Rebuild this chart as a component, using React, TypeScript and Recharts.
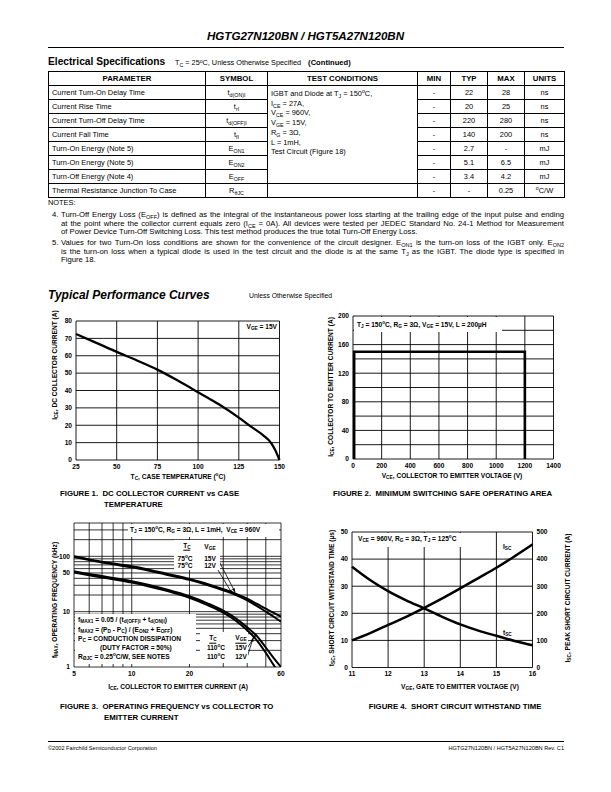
import React from 'react'
import {
  LineChart,
  ComposedChart,
  Line,
  XAxis,
  YAxis,
  CartesianGrid,
} from 'recharts'

const FONT = "'Liberation Sans', Arial, Helvetica, sans-serif"

// ---- spec table
const tableHeads = ['PARAMETER', 'SYMBOL', 'TEST CONDITIONS', 'MIN', 'TYP', 'MAX', 'UNITS']
const colWidths = [157, 62, 150, 33, 37, 37, 40]
const params = [
  'Current Turn-On Delay Time',
  'Current Rise Time',
  'Current Turn-Off Delay Time',
  'Current Fall Time',
  'Turn-On Energy (Note 5)',
  'Turn-On Energy (Note 5)',
  'Turn-Off Energy (Note 4)',
  'Thermal Resistance Junction To Case',
]
const symBase = ['t', 't', 't', 't', 'E', 'E', 'E', 'R']
const symSub = ['d(ON)I', 'rI', 'd(OFF)I', 'fI', 'ON1', 'ON2', 'OFF', 'θJC']
const minVals = ['-', '-', '-', '-', '-', '-', '-', '-']
const typVals = ['22', '20', '220', '140', '2.7', '5.1', '3.4', '-']
const maxVals = ['28', '25', '280', '200', '-', '6.5', '4.2', '0.25']
const unitVals = ['ns', 'ns', 'ns', 'ns', 'mJ', 'mJ', 'mJ', 'C/W']

// ---- figure 1: DC collector current vs case temperature
const fig1Temp = [25, 37.5, 50, 62.5, 75, 87.5, 100, 112.5, 125, 132.5, 140, 145, 147.5, 150]
const fig1Ice = [72.5, 67.4, 62.2, 57.3, 52, 45.7, 39, 32.2, 24.4, 19.2, 14.2, 9.6, 5.5, 0]
const fig1XTicks = [25, 50, 75, 100, 125, 150]
const fig1YTicks = [0, 10, 20, 30, 40, 50, 60, 70, 80]

// ---- figure 2: switching SOA
const fig2Vce = [8, 8, 1200, 1200]
const fig2Ice = [0, 150, 150, 0]
const fig2XTicks = [0, 200, 400, 600, 800, 1000, 1200, 1400]
const fig2YTicks = [0, 20, 40, 60, 80, 100, 120, 140, 160, 180, 200]
const fig2YLabels = [0, 40, 80, 120, 160, 200]

// ---- figure 3: fmax vs ICE (log-log)
const fig3Ice = [5, 6, 7, 8, 10, 12, 15, 20, 25, 30, 35, 40, 45, 50, 55, 60]
const fig3F75V15 = [100, 88, 80, 74, 66, 58.5, 49, 39, 31.5, 25.5, 21, 17.2, 13.8, 11.3, 9.5, 8.1]
const fig3F75V12 = [97, 85.5, 77.5, 71.5, 63.5, 56, 47, 37.5, 30, 24.3, 20, 16, 12.6, 10, 8.1, 6.6]
const fig3F110V15 = [54, 48, 44, 40.5, 35.5, 31, 25.5, 19, 14, 10.4, 7.5, 5.2, 3.6, 2.25, 1.45, 1.0]
const fig3F110V12 = [51, 45.5, 41.5, 38.5, 33.5, 29.2, 24, 17.8, 13, 9.6, 6.8, 4.6, 3.0, 1.8, 1.08, 0.7]
const fig3XTicks = [5, 6, 7, 8, 9, 10, 20, 30, 40, 50, 60]
const fig3XLabels = [5, 10, 20, 60]
const fig3YTicks = [1, 2, 3, 4, 5, 6, 7, 8, 9, 10, 20, 30, 40, 50, 60, 70, 80, 90, 100, 200, 300, 400]
const fig3YLabels = [1, 10, 50, 100]
// legend pointer arrows (from label to curve)
const fig3Arrows = [
  [[28, 92], [34.6, 22.5]],
  [[27.4, 66], [33.4, 21.2]],
  [[40, 2.2], [44.5, 3.9]],
  [[40, 1.52], [43, 3.4]],
]

// ---- figure 4: short circuit withstand time
const fig4Vge = [11, 11.5, 12, 12.5, 13, 13.5, 14, 14.5, 15, 15.5, 16]
const fig4Tsc = [37.2, 32.3, 28.2, 24.8, 21.8, 18.7, 15.9, 13.6, 11.7, 9.8, 8.2]
const fig4Isc = [100, 127, 157, 187, 220, 255, 292, 330, 368, 410, 454]
const fig4XTicks = [11, 12, 13, 14, 15, 16]
const fig4LTicks = [0, 10, 20, 30, 40, 50]
const fig4RTicks = [0, 100, 200, 300, 400, 500]

type Box = { x0: number; y0: number; x1: number; y1: number }
const PAD = 8
function frame(b: Box, yw: number, yw2: number, xh: number) {
  return {
    style: { position: 'absolute' as const, left: b.x0 - yw - PAD, top: b.y0 - PAD },
    width: b.x1 - b.x0 + yw + yw2 + 2 * PAD,
    height: b.y1 - b.y0 + xh + 2 * PAD,
    margin: { top: PAD, right: PAD, bottom: PAD, left: PAD },
  }
}

const tick = { fontSize: 6.6, fontWeight: 700, fill: '#000', fontFamily: FONT }
const axisCommon = {
  axisLine: false,
  tickLine: false,
  tick,
  tickSize: 2,
  tickMargin: 2,
  interval: 0 as const,
}

const S = ({ children }: { children: React.ReactNode }) => (
  <sub style={{ fontSize: '0.72em', verticalAlign: '-0.3em', lineHeight: 0 }}>{children}</sub>
)
const O = () => (
  <sup style={{ fontSize: '0.7em', verticalAlign: '0.5em', lineHeight: 0 }}>o</sup>
)

function Txt({
  x,
  y,
  children,
  size = 6.6,
  weight = 700,
  anchor = 'start',
  italic = false,
  rotate = false,
  style = {},
}: any) {
  const tx = anchor === 'middle' ? '-50%' : anchor === 'end' ? '-100%' : '0'
  return (
    <div
      style={{
        position: 'absolute',
        left: x,
        top: y,
        transform: rotate ? 'translate(-50%,-50%) rotate(-90deg)' : `translate(${tx},-50%)`,
        fontSize: size,
        fontWeight: weight,
        fontStyle: italic ? 'italic' : 'normal',
        whiteSpace: 'nowrap',
        lineHeight: 1,
        ...style,
      }}
    >
      {children}
    </div>
  )
}

const WhiteBox = ({ x, y, w, h }: { x: number; y: number; w: number; h: number }) => (
  <div style={{ position: 'absolute', left: x, top: y, width: w, height: h, background: '#fff' }} />
)

const Rule = ({ y }: { y: number }) => (
  <div style={{ position: 'absolute', left: 48, top: y, width: 516, height: 1, background: '#000' }} />
)

// custom dot: remembers the first point and draws an arrow head on the second
function arrowDot() {
  let prev: { x: number; y: number } | null = null
  return (p: any) => {
    const { cx, cy, index } = p
    if (index === 0 || !prev) {
      prev = { x: cx, y: cy }
      return <g key={`a${index}`} />
    }
    const a = Math.atan2(cy - prev.y, cx - prev.x)
    const L = 4
    const W = 1.5
    const bx = cx - L * Math.cos(a)
    const by = cy - L * Math.sin(a)
    const pts = `${cx},${cy} ${bx - W * Math.sin(a)},${by + W * Math.cos(a)} ${bx + W * Math.sin(a)},${by - W * Math.cos(a)}`
    return <polygon key={`a${index}`} points={pts} fill="#000" />
  }
}

function SpecTable() {
  const cell: React.CSSProperties = {
    border: '1px solid #000',
    padding: 0,
    textAlign: 'center',
    verticalAlign: 'middle',
    lineHeight: '9px',
  }
  const cond = [
    <>IGBT and Diode at T<S>J</S> = 150<O />C,</>,
    <>I<S>CE</S> = 27A,</>,
    <>V<S>CE</S> = 960V,</>,
    <>V<S>GE</S> = 15V,</>,
    <>R<S>G</S> = 3Ω,</>,
    <>L = 1mH,</>,
    <>Test Circuit (Figure 18)</>,
  ]
  return (
    <table
      style={{
        position: 'absolute',
        left: 48,
        top: 71,
        width: 516,
        borderCollapse: 'collapse',
        tableLayout: 'fixed',
        fontSize: 7.4,
        fontFamily: FONT,
      }}
    >
      <colgroup>
        {colWidths.map((w, i) => (
          <col key={i} style={{ width: w }} />
        ))}
      </colgroup>
      <thead>
        <tr style={{ height: 14 }}>
          {tableHeads.map((h) => (
            <th key={h} style={{ ...cell, fontSize: 7.8, fontWeight: 700 }}>
              {h}
            </th>
          ))}
        </tr>
      </thead>
      <tbody>
        {params.map((p, i) => (
          <tr key={i} style={{ height: 14 }}>
            <td style={{ ...cell, textAlign: 'left', paddingLeft: 3 }}>{p}</td>
            <td style={cell}>
              {symBase[i]}
              <S>{symSub[i]}</S>
            </td>
            {i === 0 && (
              <td
                rowSpan={7}
                style={{ ...cell, textAlign: 'left', verticalAlign: 'top', paddingLeft: 3, paddingTop: 3, lineHeight: '9.7px' }}
              >
                {cond.map((c, k) => (
                  <div key={k}>{c}</div>
                ))}
              </td>
            )}
            {i === 7 && <td style={cell} />}
            <td style={cell}>{minVals[i]}</td>
            <td style={cell}>{typVals[i]}</td>
            <td style={cell}>{maxVals[i]}</td>
            <td style={cell}>
              {unitVals[i] === 'C/W' ? (
                <>
                  <O />C/W
                </>
              ) : (
                unitVals[i]
              )}
            </td>
          </tr>
        ))}
      </tbody>
    </table>
  )
}

function NoteLine({ y, last, children }: { y: number; last?: boolean; children: React.ReactNode }) {
  return (
    <div
      style={{
        position: 'absolute',
        left: 61,
        top: y,
        width: 503,
        transform: 'translateY(-50%)',
        fontSize: 7.7,
        lineHeight: 1,
        whiteSpace: 'nowrap',
        textAlign: last ? 'left' : 'justify',
        textAlignLast: last ? 'left' : 'justify',
      }}
    >
      {children}
    </div>
  )
}

function Fig1() {
  const box = { x0: 76, y0: 320.5, x1: 279.5, y1: 459.5 }
  const g = frame(box, 22, 0, 14)
  const data = fig1Temp.map((t, i) => ({ t, ice: fig1Ice[i] }))
  return (
    <div style={g.style}>
      <LineChart width={g.width} height={g.height} margin={g.margin} data={data}>
        <CartesianGrid stroke="#000" strokeWidth={0.9} />
        <XAxis dataKey="t" type="number" domain={[25, 150]} ticks={fig1XTicks} height={14} {...axisCommon} />
        <YAxis type="number" domain={[0, 80]} ticks={fig1YTicks} width={22} {...axisCommon} />
        <Line dataKey="ice" type="monotone" stroke="#000" strokeWidth={2.3} dot={false} isAnimationActive={false} />
      </LineChart>
    </div>
  )
}

function Fig2() {
  const box = { x0: 353, y0: 316, x1: 553.5, y1: 459 }
  const g = frame(box, 22, 0, 14)
  const data = fig2Vce.map((v, i) => ({ v, ice: fig2Ice[i] }))
  return (
    <div style={g.style}>
      <LineChart width={g.width} height={g.height} margin={g.margin} data={data}>
        <CartesianGrid stroke="#000" strokeWidth={0.9} />
        <XAxis dataKey="v" type="number" domain={[0, 1400]} ticks={fig2XTicks} height={14} {...axisCommon} />
        <YAxis
          type="number"
          domain={[0, 200]}
          ticks={fig2YTicks}
          width={22}
          {...axisCommon}
          tickFormatter={(v: number) => (fig2YLabels.includes(v) ? String(v) : '')}
        />
        <Line dataKey="ice" type="linear" stroke="#000" strokeWidth={2.6} dot={false} isAnimationActive={false} />
      </LineChart>
    </div>
  )
}

function Fig3() {
  const box = { x0: 73.5, y0: 523, x1: 280.5, y1: 667 }
  const g = frame(box, 22, 0, 14)
  const series = [fig3F75V15, fig3F75V12, fig3F110V15, fig3F110V12]
  return (
    <div style={g.style}>
      <LineChart width={g.width} height={g.height} margin={g.margin}>
        <CartesianGrid stroke="#000" strokeWidth={0.8} />
        <XAxis
          dataKey="x"
          type="number"
          scale="log"
          domain={[5, 60]}
          allowDataOverflow
          ticks={fig3XTicks}
          height={14}
          {...axisCommon}
          tickFormatter={(v: number) => (fig3XLabels.includes(v) ? String(v) : '')}
        />
        <YAxis
          type="number"
          scale="log"
          domain={[1, 400]}
          allowDataOverflow
          ticks={fig3YTicks}
          width={22}
          {...axisCommon}
          tickFormatter={(v: number) => (fig3YLabels.includes(v) ? String(v) : '')}
        />
        {series.map((s, k) => (
          <Line
            key={k}
            data={fig3Ice.map((x, i) => ({ x, y: s[i] }))}
            dataKey="y"
            type="monotone"
            stroke="#000"
            strokeWidth={2}
            dot={false}
            isAnimationActive={false}
          />
        ))}
        {fig3Arrows.map((a, k) => (
          <Line
            key={`arr${k}`}
            data={a.map((pt) => ({ x: pt[0], y: pt[1] }))}
            dataKey="y"
            type="linear"
            stroke="#000"
            strokeWidth={0.8}
            dot={arrowDot()}
            isAnimationActive={false}
          />
        ))}
      </LineChart>
    </div>
  )
}

function Fig4() {
  const box = { x0: 351.5, y0: 531.5, x1: 532, y1: 667 }
  const g = frame(box, 22, 22, 14)
  const data = fig4Vge.map((v, i) => ({ v, tsc: fig4Tsc[i], isc: fig4Isc[i] }))
  return (
    <div style={g.style}>
      <ComposedChart width={g.width} height={g.height} margin={g.margin} data={data}>
        <CartesianGrid stroke="#000" strokeWidth={0.9} yAxisId="l" />
        <XAxis dataKey="v" type="number" domain={[11, 16]} ticks={fig4XTicks} height={14} {...axisCommon} />
        <YAxis yAxisId="l" type="number" domain={[0, 50]} ticks={fig4LTicks} width={22} {...axisCommon} />
        <YAxis
          yAxisId="r"
          orientation="right"
          type="number"
          domain={[0, 500]}
          ticks={fig4RTicks}
          width={22}
          {...axisCommon}
        />
        <Line yAxisId="l" dataKey="tsc" type="monotone" stroke="#000" strokeWidth={2.5} dot={false} isAnimationActive={false} />
        <Line yAxisId="r" dataKey="isc" type="monotone" stroke="#000" strokeWidth={2.5} dot={false} isAnimationActive={false} />
      </ComposedChart>
    </div>
  )
}

export default function App() {
  return (
    <div
      style={{
        position: 'absolute',
        left: 0,
        top: 0,
        width: 611,
        height: 792,
        background: '#fff',
        color: '#000',
        fontFamily: FONT,
        overflow: 'hidden',
      }}
    >
      <Txt x={305.5} y={36} size={11.6} italic anchor="middle">
        HGTG27N120BN / HGT5A27N120BN
      </Txt>
      <Rule y={47} />

      <Txt x={48} y={62} size={10.2}>
        Electrical Specifications
      </Txt>
      <Txt x={175} y={62.5} size={7.3} weight={400}>
        T<S>C</S> = 25<O />C, Unless Otherwise Specified
        <span style={{ fontWeight: 700, marginLeft: 7, fontSize: 7.6 }}>(Continued)</span>
      </Txt>

      <SpecTable />

      <Txt x={48} y={203} size={7.4} weight={400}>
        NOTES:
      </Txt>
      <Txt x={52} y={215} size={7.7} weight={400}>
        4.
      </Txt>
      <NoteLine y={215}>
        Turn-Off Energy Loss (E<S>OFF</S>) is defined as the integral of the instantaneous power loss starting at the trailing
        edge of the input pulse and ending
      </NoteLine>
      <NoteLine y={223.5}>
        at the point where the collector current equals zero (I<S>CE</S> = 0A). All devices were tested per JEDEC Standard No.
        24-1 Method for Measurement
      </NoteLine>
      <NoteLine y={232} last>
        of Power Device Turn-Off Switching Loss. This test method produces the true total Turn-Off Energy Loss.
      </NoteLine>
      <Txt x={52} y={243} size={7.7} weight={400}>
        5.
      </Txt>
      <NoteLine y={243}>
        Values for two Turn-On loss conditions are shown for the convenience of the circuit designer. E<S>ON1</S> is the
        turn-on loss of the IGBT only. E<S>ON2</S>
      </NoteLine>
      <NoteLine y={251.5}>
        is the turn-on loss when a typical diode is used in the test circuit and the diode is at the same T<S>J</S> as the IGBT.
        The diode type is specified in
      </NoteLine>
      <NoteLine y={260} last>
        Figure 18.
      </NoteLine>

      <Txt x={48} y={295} size={12} italic>
        Typical Performance Curves
      </Txt>
      <Txt x={249} y={296} size={6.8} weight={400}>
        Unless Otherwise Specified
      </Txt>

      {/* Figure 1 */}
      <Fig1 />
      <Txt x={277} y={327} anchor="end">
        V<S>GE</S> = 15V
      </Txt>
      <Txt x={55} y={365} rotate>
        I<S>CE</S>, DC COLLECTOR CURRENT (A)
      </Txt>
      <Txt x={178} y={477} anchor="middle">
        T<S>C</S>, CASE TEMPERATURE (<O />C)
      </Txt>
      <Txt x={60} y={494} size={7.8}>
        FIGURE 1.&nbsp; DC COLLECTOR CURRENT vs CASE
      </Txt>
      <Txt x={104} y={505} size={7.8}>
        TEMPERATURE
      </Txt>

      {/* Figure 2 */}
      <Fig2 />
      <WhiteBox x={354} y={317} w={148} h={15} />
      <Txt x={357} y={325}>
        T<S>J</S> = 150<O />C, R<S>G</S> = 3Ω, V<S>GE</S> = 15V, L = 200µH
      </Txt>
      <Txt x={331} y={387} rotate>
        I<S>CE</S>, COLLECTOR TO EMITTER CURRENT (A)
      </Txt>
      <Txt x={452} y={476} anchor="middle">
        V<S>CE</S>, COLLECTOR TO EMITTER VOLTAGE (V)
      </Txt>
      <Txt x={333} y={494} size={7.8}>
        FIGURE 2.&nbsp; MINIMUM SWITCHING SAFE OPERATING AREA
      </Txt>

      {/* Figure 3 */}
      <Fig3 />
      <WhiteBox x={128} y={524} w={151} h={13} />
      <Txt x={130} y={530}>
        T<S>J</S> = 150<O />C, R<S>G</S> = 3Ω, L = 1mH,&nbsp; V<S>CE</S> = 960V
      </Txt>
      <WhiteBox x={174} y={540} w={46} h={30} />
      <Txt x={187} y={546.5} anchor="middle" style={{ borderBottom: '0.8px solid #000', paddingBottom: 1 }}>
        T<S>C</S>
      </Txt>
      <Txt x={210} y={546.5} anchor="middle">
        V<S>GE</S>
      </Txt>
      <Txt x={185} y={558.5} anchor="middle">
        75<O />C
      </Txt>
      <Txt x={210} y={558.5} anchor="middle">
        15V
      </Txt>
      <Txt x={185} y={566} anchor="middle">
        75<O />C
      </Txt>
      <Txt x={210} y={566} anchor="middle">
        12V
      </Txt>
      <WhiteBox x={75} y={614} w={121} h={50} />
      <Txt x={78} y={620}>
        f<S>MAX1</S> = 0.05 / (t<S>d(OFF)I</S> + t<S>d(ON)I</S>)
      </Txt>
      <Txt x={78} y={630}>
        f<S>MAX2</S> = (P<S>D</S> - P<S>C</S>) / (E<S>ON2</S> + E<S>OFF</S>)
      </Txt>
      <Txt x={78} y={639}>
        P<S>C</S> = CONDUCTION DISSIPATION
      </Txt>
      <Txt x={100} y={648}>
        (DUTY FACTOR = 50%)
      </Txt>
      <Txt x={78} y={657}>
        R<S>ØJC</S> = 0.25<O />C/W, SEE NOTES
      </Txt>
      <WhiteBox x={200} y={632} w={48} h={31} />
      <Txt x={213} y={639} anchor="middle" style={{ borderBottom: '0.8px solid #000', paddingBottom: 1 }}>
        T<S>C</S>
      </Txt>
      <Txt x={241} y={639} anchor="middle" style={{ borderBottom: '0.8px solid #000', paddingBottom: 1 }}>
        V<S>GE</S>
      </Txt>
      <Txt x={216} y={648} anchor="middle">
        110<O />C
      </Txt>
      <Txt x={241} y={648} anchor="middle">
        15V
      </Txt>
      <Txt x={216} y={657} anchor="middle">
        110<O />C
      </Txt>
      <Txt x={241} y={657} anchor="middle">
        12V
      </Txt>
      <Txt x={55} y={600} rotate>
        f<S>MAX</S>, OPERATING FREQUENCY (kHz)
      </Txt>
      <Txt x={178} y={687} anchor="middle">
        I<S>CE</S>, COLLECTOR TO EMITTER CURRENT (A)
      </Txt>
      <Txt x={60} y={707} size={7.8}>
        FIGURE 3.&nbsp; OPERATING FREQUENCY vs COLLECTOR TO
      </Txt>
      <Txt x={104} y={718} size={7.8}>
        EMITTER CURRENT
      </Txt>

      {/* Figure 4 */}
      <Fig4 />
      <WhiteBox x={355} y={533} w={135} h={14} />
      <Txt x={358} y={539}>
        V<S>CE</S> = 960V, R<S>G</S> = 3Ω, T<S>J</S> = 125<O />C
      </Txt>
      <Txt x={503} y={547}>
        I<S>SC</S>
      </Txt>
      <Txt x={503} y={633}>
        t<S>SC</S>
      </Txt>
      <Txt x={332} y={598} rotate>
        t<S>SC</S>, SHORT CIRCUIT WITHSTAND TIME (µs)
      </Txt>
      <Txt x={568} y={598} rotate>
        I<S>SC</S>, PEAK SHORT CIRCUIT CURRENT (A)
      </Txt>
      <Txt x={460} y={687} anchor="middle">
        V<S>GE</S>, GATE TO EMITTER VOLTAGE (V)
      </Txt>
      <Txt x={455} y={707} size={7.8} anchor="middle">
        FIGURE 4.&nbsp; SHORT CIRCUIT WITHSTAND TIME
      </Txt>

      <Rule y={741} />
      <Txt x={48} y={749} size={5.6} weight={400}>
        ©2002 Fairchild Semiconductor Corporation
      </Txt>
      <Txt x={564} y={749} size={5.6} weight={400} anchor="end">
        HGTG27N120BN / HGT5A27N120BN Rev. C1
      </Txt>
    </div>
  )
}
